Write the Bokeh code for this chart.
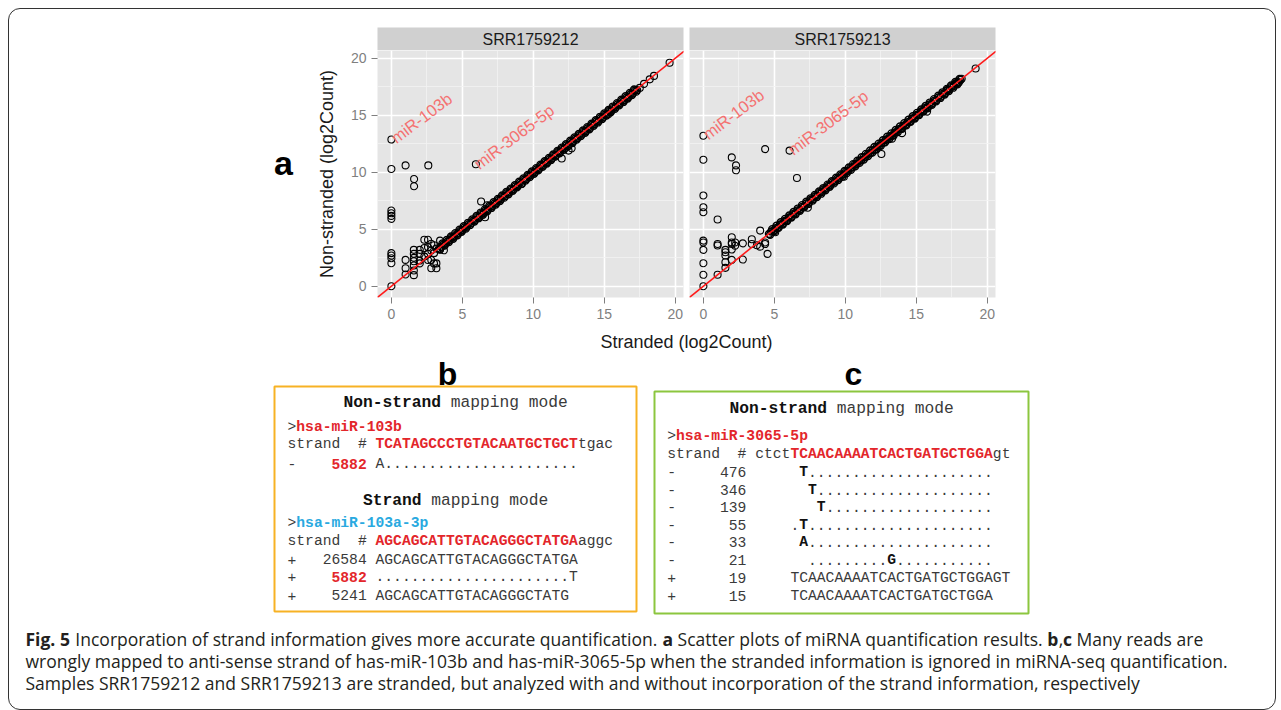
import re
from bokeh.plotting import figure
from bokeh.models import Range1d, FixedTicker, Slope, Spacer, Grid
from bokeh.layouts import row, column
from bokeh.core.properties import value
from bokeh.embed import file_html
from bokeh.resources import INLINE

SANS = "Liberation Sans"
MONO = "Liberation Mono"
CAPF = "Open Sans"

# ---------------- data ----------------
panel_labels = ["SRR1759212", "SRR1759213"]
axis_ticks = [0, 5, 10, 15, 20]
minor_ticks = [2.5, 7.5, 12.5, 17.5]
note_text = ["miR-103b", "miR-3065-5p"]

left_note_x = [0.1, 5.95]
left_note_y = [12.87, 10.6]
right_note_x = [0.1, 6.1]
right_note_y = [13.2, 11.85]

left_out_x = [0, 0, 0, 0, 0, 0, 0, 0, 0, 0, 0,
              1.0, 2.6, 1.6, 1.6, 5.95,
              1.0, 1.0, 1.0,
              1.58, 1.58, 1.58, 1.58, 1.58, 1.58, 1.58,
              2.0, 2.0, 2.0, 2.0,
              2.32, 2.32, 2.32,
              2.58, 2.58, 2.58, 2.58,
              2.81, 2.81, 2.81, 2.81,
              3.0, 3.0, 3.0,
              3.17, 3.17, 3.17,
              3.43, 3.43, 3.7,
              6.32, 6.6, 6.75,
              12.0, 12.48, 12.7, 15.3,
              17.5, 17.8, 18.2, 18.5, 19.6]
left_out_y = [12.87, 10.29, 6.64, 6.4, 6.17, 5.91, 2.9, 2.69, 2.46, 2.02, 0,
              10.6, 10.6, 9.4, 8.77, 10.7,
              2.31, 1.58, 1.03,
              3.19, 2.84, 2.49, 2.19, 1.82, 1.38, 0.97,
              3.19, 2.84, 2.25, 2.0,
              4.07, 3.35, 2.6,
              4.07, 3.43, 2.84, 2.3,
              3.72, 3.13, 1.58, 2.3,
              3.6, 2.9, 2.0,
              1.58, 2.0, 3.3,
              4.0, 3.2, 3.15,
              7.43, 6.05, 7.1,
              11.2, 11.9, 12.1, 15.1,
              17.4, 17.75, 18.15, 18.45, 19.6]

left_diag = [(3.35, 3.30), (3.52, 3.45), (3.68, 3.70), (3.81, 3.74), (3.97, 3.95), (4.12, 4.05),
             (4.26, 4.27), (4.41, 4.33), (4.58, 4.57), (4.70, 4.62), (4.86, 4.85), (5.02, 4.93),
             (5.15, 5.16), (5.31, 5.22), (5.44, 5.45), (5.60, 5.51), (5.77, 5.78), (5.90, 5.82),
             (6.05, 6.06), (6.21, 6.10), (6.36, 6.37), (6.50, 6.42), (6.66, 6.66), (6.80, 6.71),
             (6.95, 6.96), (7.10, 7.01), (7.26, 7.27), (7.40, 7.30), (7.55, 7.56), (7.71, 7.62),
             (7.86, 7.87), (8.00, 7.90), (8.16, 8.17), (8.30, 8.21), (8.46, 8.47), (8.61, 8.50),
             (8.75, 8.76), (8.91, 8.82), (9.06, 9.07), (9.20, 8.98), (9.35, 9.36), (9.51, 9.40),
             (9.66, 9.67), (9.80, 9.71), (9.95, 9.96), (10.11, 10.00), (10.25, 10.26), (10.41, 10.31),
             (10.56, 10.57), (10.70, 10.60), (10.86, 10.87), (11.00, 10.90), (11.15, 11.16), (11.31, 11.20),
             (11.45, 11.46), (11.60, 11.50), (11.76, 11.77), (11.90, 11.80), (12.05, 12.06), (12.21, 12.10),
             (12.35, 12.36), (12.50, 12.40), (12.66, 12.67), (12.80, 12.68), (12.95, 12.96), (13.11, 13.00),
             (13.25, 13.26), (13.40, 13.30), (13.56, 13.57), (13.70, 13.60), (13.85, 13.86), (14.01, 13.90),
             (14.15, 14.16), (14.30, 14.20), (14.46, 14.47), (14.60, 14.50), (14.75, 14.76), (14.91, 14.80),
             (15.05, 15.06), (15.20, 15.10), (15.36, 15.37), (15.50, 15.40), (15.66, 15.67), (15.80, 15.70),
             (15.95, 15.96), (16.11, 16.00), (16.26, 16.27), (16.40, 16.30), (16.56, 16.57), (16.70, 16.60),
             (16.86, 16.87), (17.00, 16.90), (17.16, 17.17), (17.31, 17.20)]

left_diag2 = [(3.42, 3.24), (3.60, 3.76), (3.75, 3.57), (3.90, 4.06), (4.05, 3.87), (4.20, 4.36),
              (4.35, 4.17), (4.50, 4.66), (4.65, 4.47), (4.80, 4.96), (4.95, 4.77), (5.10, 5.26),
              (5.25, 5.07), (5.40, 5.56), (5.55, 5.37), (5.70, 5.86), (5.85, 5.67), (6.00, 6.16),
              (6.15, 5.97), (6.30, 6.46), (6.45, 6.27), (6.60, 6.76), (6.75, 6.57), (6.90, 7.06),
              (7.05, 6.87), (7.20, 7.36), (7.35, 7.17), (7.50, 7.66), (7.65, 7.47), (7.80, 7.96),
              (7.95, 7.77), (8.10, 8.26), (8.25, 8.07), (8.40, 8.56), (8.55, 8.37), (8.70, 8.86),
              (8.85, 8.67), (9.00, 9.16), (9.15, 8.97), (9.30, 9.46), (9.45, 9.27), (9.60, 9.76),
              (9.75, 9.57), (9.90, 10.06), (10.05, 9.87), (10.20, 10.36), (10.35, 10.17), (10.50, 10.66),
              (10.65, 10.47), (10.80, 10.96), (10.95, 10.77), (11.10, 11.26), (11.25, 11.07), (11.40, 11.56),
              (11.55, 11.37), (11.70, 11.86), (11.85, 11.67), (12.00, 12.16), (12.15, 11.97), (12.30, 12.46),
              (12.45, 12.27), (12.60, 12.76), (12.75, 12.57), (12.90, 13.06), (13.05, 12.87), (13.20, 13.36),
              (13.35, 13.17), (13.50, 13.66), (13.65, 13.47), (13.80, 13.96), (13.95, 13.77), (14.10, 14.26),
              (14.25, 14.07), (14.40, 14.56), (14.55, 14.37), (14.70, 14.86), (14.85, 14.67), (15.00, 15.16),
              (15.15, 14.97), (15.30, 15.46), (15.45, 15.27), (15.60, 15.76), (15.75, 15.57), (15.90, 16.06),
              (16.05, 15.87), (16.20, 16.36), (16.35, 16.17), (16.50, 16.66), (16.65, 16.47), (16.80, 16.96),
              (16.95, 16.77), (17.10, 17.26), (17.25, 17.07)]

right_out_x = [0, 0, 2.0, 2.3, 2.3, 4.35, 6.07, 6.59,
               0, 0, 0, 1.0,
               0, 0, 0, 0, 0, 0,
               1.0, 1.0, 1.0,
               1.55, 1.55, 1.55, 1.55, 1.55,
               2.0, 2.0, 2.0, 2.0, 2.0, 2.24, 2.24,
               2.78, 2.78,
               3.41, 3.41, 3.77, 4.0, 4.0, 4.35, 4.35, 4.52, 5.06,
               7.36, 9.9, 12.54, 13.3, 14.0, 15.76,
               17.2, 17.8, 18.0, 18.2, 19.18]
right_out_y = [13.2, 11.1, 11.3, 10.6, 10.17, 12.03, 11.9, 9.5,
               7.96, 6.93, 6.49, 5.85,
               4.0, 3.84, 3.19, 2.02, 1.0, 0,
               3.7, 3.57, 1.0,
               3.19, 2.98, 2.69, 2.1, 1.61,
               4.3, 3.84, 3.7, 3.22, 2.31, 3.84, 3.55,
               3.76, 2.34,
               4.12, 3.7, 3.6, 4.88, 3.47, 3.84, 3.7, 2.84, 4.74,
               6.89, 9.6, 11.6, 12.95, 13.43, 15.32,
               17.2, 17.75, 17.9, 18.2, 19.1]

right_diag = [(4.62, 4.58), (4.78, 4.80), (4.93, 4.86), (5.09, 5.10), (5.24, 5.15), (5.40, 5.41),
              (5.55, 5.47), (5.71, 5.72), (5.86, 5.78), (6.02, 6.03), (6.17, 6.08), (6.33, 6.34),
              (6.48, 6.40), (6.64, 6.65), (6.79, 6.70), (6.95, 6.96), (7.10, 7.02), (7.26, 7.27),
              (7.41, 7.33), (7.57, 7.58), (7.72, 7.64), (7.88, 7.89), (8.03, 7.95), (8.19, 8.20),
              (8.34, 8.26), (8.50, 8.51), (8.65, 8.57), (8.81, 8.82), (8.96, 8.88), (9.12, 9.13),
              (9.27, 9.19), (9.43, 9.44), (9.58, 9.50), (9.74, 9.75), (9.89, 9.81), (10.05, 10.06),
              (10.20, 10.12), (10.36, 10.37), (10.51, 10.43), (10.67, 10.68), (10.82, 10.74), (10.98, 10.99),
              (11.13, 11.05), (11.29, 11.30), (11.44, 11.36), (11.60, 11.61), (11.75, 11.67), (11.91, 11.92),
              (12.06, 11.98), (12.22, 12.23), (12.37, 12.29), (12.53, 12.54), (12.68, 12.60), (12.84, 12.85),
              (12.99, 12.91), (13.15, 13.16), (13.30, 13.22), (13.46, 13.47), (13.61, 13.53), (13.77, 13.78),
              (13.92, 13.84), (14.08, 14.09), (14.23, 14.15), (14.39, 14.40), (14.54, 14.46), (14.70, 14.71),
              (14.85, 14.77), (15.01, 15.02), (15.16, 15.08), (15.32, 15.33), (15.47, 15.39), (15.63, 15.64),
              (15.78, 15.70), (15.94, 15.95), (16.09, 16.01), (16.25, 16.26), (16.40, 16.32), (16.56, 16.57),
              (16.71, 16.63), (16.87, 16.88), (17.02, 16.94), (17.18, 17.19), (17.33, 17.25), (17.49, 17.50),
              (17.64, 17.56), (17.80, 17.81), (17.95, 17.87), (18.11, 18.10)]

right_diag2 = [(4.70, 4.52), (4.85, 5.01), (5.00, 4.82), (5.15, 5.31), (5.30, 5.12), (5.45, 5.61),
               (5.60, 5.42), (5.75, 5.91), (5.90, 5.72), (6.05, 6.21), (6.20, 6.02), (6.35, 6.51),
               (6.50, 6.32), (6.65, 6.81), (6.80, 6.62), (6.95, 7.11), (7.10, 6.92), (7.25, 7.41),
               (7.40, 7.22), (7.55, 7.71), (7.70, 7.52), (7.85, 8.01), (8.00, 7.82), (8.15, 8.31),
               (8.30, 8.12), (8.45, 8.61), (8.60, 8.42), (8.75, 8.91), (8.90, 8.72), (9.05, 9.21),
               (9.20, 9.02), (9.35, 9.51), (9.50, 9.32), (9.65, 9.81), (9.80, 9.62), (9.95, 10.11),
               (10.10, 9.92), (10.25, 10.41), (10.40, 10.22), (10.55, 10.71), (10.70, 10.52), (10.85, 11.01),
               (11.00, 10.82), (11.15, 11.31), (11.30, 11.12), (11.45, 11.61), (11.60, 11.42), (11.75, 11.91),
               (11.90, 11.72), (12.05, 12.21), (12.20, 12.02), (12.35, 12.51), (12.50, 12.32), (12.65, 12.81),
               (12.80, 12.62), (12.95, 13.11), (13.10, 12.92), (13.25, 13.41), (13.40, 13.22), (13.55, 13.71),
               (13.70, 13.52), (13.85, 14.01), (14.00, 13.82), (14.15, 14.31), (14.30, 14.12), (14.45, 14.61),
               (14.60, 14.42), (14.75, 14.91), (14.90, 14.72), (15.05, 15.21), (15.20, 15.02), (15.35, 15.51),
               (15.50, 15.32), (15.65, 15.81), (15.80, 15.62), (15.95, 16.11), (16.10, 15.92), (16.25, 16.41),
               (16.40, 16.22), (16.55, 16.71), (16.70, 16.52), (16.85, 17.01), (17.00, 16.82), (17.15, 17.31),
               (17.30, 17.12), (17.45, 17.61), (17.60, 17.42), (17.75, 17.91), (17.90, 17.72), (18.05, 18.18)]

# ---------------- helpers ----------------
def put(fig, x, y, t, font, size, color, bold=False, align="left", baseline="middle", angle=0):
    fig.text(x=[x], y=[y], text=[t], text_font=value(font), text_font_size=f"{size}px",
             text_color=color, text_font_style="bold" if bold else "normal",
             text_align=align, text_baseline=baseline, angle=angle)


def blank(width, height, xr, yr):
    f = figure(width=width, height=height, x_range=Range1d(*xr), y_range=Range1d(*yr),
               min_border=0, min_border_left=0, min_border_right=0, min_border_top=0,
               min_border_bottom=0, toolbar_location=None, output_backend="svg",
               x_axis_location=None, y_axis_location=None)
    f.grid.visible = False
    f.outline_line_color = None
    f.background_fill_color = None
    f.border_fill_color = None
    return f


def strip(label, width, mbl, mbr):
    s = figure(width=width, height=41, x_range=Range1d(0, 1), y_range=Range1d(0, 1),
               min_border_left=mbl, min_border_right=mbr, min_border_top=18, min_border_bottom=0,
               toolbar_location=None, output_backend="svg",
               x_axis_location=None, y_axis_location=None)
    s.grid.visible = False
    s.outline_line_color = None
    s.background_fill_color = "#d0d0d0"
    s.border_fill_color = None
    put(s, 0.5, 0.5, label, SANS, 16, "#1a1a1a", align="center")
    return s


def panel(out_x, out_y, diags, nx, ny, width, mbl, mbr, show_y):
    p = figure(width=width, height=275, x_range=Range1d(-0.98, 20.58), y_range=Range1d(-0.99, 20.68),
               min_border_left=mbl, min_border_right=mbr, min_border_top=0, min_border_bottom=28,
               toolbar_location=None, output_backend="svg",
               y_axis_location="left" if show_y else None)
    p.background_fill_color = "#e5e5e5"
    p.border_fill_color = None
    p.outline_line_color = None
    if not p.ygrid:
        p.add_layout(Grid(dimension=1), "center")
    for g in list(p.xgrid) + list(p.ygrid):
        g.ticker = FixedTicker(ticks=axis_ticks, minor_ticks=minor_ticks)
        g.grid_line_color = "white"
        g.grid_line_width = 1.6
        g.minor_grid_line_color = "#f2f2f2"
        g.minor_grid_line_width = 0.8
    axes = list(p.xaxis) + (list(p.yaxis) if show_y else [])
    for ax in axes:
        ax.ticker = FixedTicker(ticks=axis_ticks)
        ax.axis_line_color = None
        ax.major_tick_line_color = "#7f7f7f"
        ax.major_tick_out = 6
        ax.major_tick_in = 0
        ax.minor_tick_out = 0
        ax.minor_tick_in = 0
        ax.major_label_text_font = SANS
        ax.major_label_text_font_size = "14px"
        ax.major_label_text_color = "#7f7f7f"
        ax.major_label_standoff = 5
    if show_y:
        ya = p.yaxis[0]
        ya.axis_label = "Non-stranded (log2Count)"
        ya.axis_label_text_font = SANS
        ya.axis_label_text_font_size = "18px"
        ya.axis_label_text_font_style = "normal"
        ya.axis_label_text_color = "#1a1a1a"
        ya.axis_label_standoff = 11
    for diag in diags:
        p.scatter([a for a, _ in diag], [b for _, b in diag], marker="circle", size=7,
                  fill_color=None, line_color="black", line_width=1.4)
    p.scatter(out_x, out_y, marker="circle", size=7, fill_color=None,
              line_color="black", line_width=1.1)
    p.add_layout(Slope(gradient=1, y_intercept=0, line_color="#ff1a1a", line_width=1.6))
    p.text(x=nx, y=ny, text=note_text, angle=37, angle_units="deg",
           text_font=value(SANS), text_font_size="16.5px", text_color="#f47272",
           text_align="left", text_baseline="middle")
    return p


# ---------------- top row ----------------
pad_left = blank(291, 316, (9, 300), (325, 9))
put(pad_left, 283, 162, "a", SANS, 34, "#000000", bold=True, align="center", baseline="alphabetic")

s1 = strip(panel_labels[0], 386, 77, 3)
p1 = panel(left_out_x, left_out_y, [left_diag, left_diag2], left_note_x, left_note_y, 386, 77, 3, True)
s2 = strip(panel_labels[1], 312, 3, 3)
p2 = panel(right_out_x, right_out_y, [right_diag, right_diag2], right_note_x, right_note_y, 312, 3, 3, False)

top = row(pad_left, column(s1, p1), column(s2, p2), Spacer(width=277, height=316))

# ---------------- bottom part ----------------
bot = blank(1266, 384, (9, 1275), (709, 325))
put(bot, 686, 341.7, "Stranded (log2Count)", SANS, 18, "#1a1a1a", align="center")
put(bot, 447, 373, "b", SANS, 32, "#000000", bold=True, align="center", baseline="alphabetic")
put(bot, 853, 373, "c", SANS, 32, "#000000", bold=True, align="center", baseline="alphabetic")

bot.quad(left=[274], right=[636], top=[386], bottom=[611], fill_color=None,
         line_color="#f7b224", line_width=2)
bot.quad(left=[654], right=[1028], top=[391], bottom=[613], fill_color=None,
         line_color="#8cc63f", line_width=2)

GREY = "#3a3a3a"
BLACK = "#111111"
RED = "#e3262b"
BLUE = "#29a9e0"
MS = 14.67
HS = 16.25


def mono(fig, x0, y, segs, size):
    cw = 0.6 * size
    k = 0
    for txt, color, bold in segs:
        for m in re.finditer(r"\S+(?: \S+)*", txt):
            put(fig, x0 + (k + m.start()) * cw, y, m.group(), MONO, size, color, bold)
        k += len(txt)


def heading(fig, cx, y, segs):
    n = sum(len(t) for t, _, _ in segs)
    mono(fig, cx - n * 0.6 * HS / 2, y, segs, HS)


# box b
heading(bot, 455, 401.7, [("Non-strand", BLACK, True), (" mapping mode", GREY, False)])
bx = 287
mono(bot, bx, 426.7, [(">", GREY, False), ("hsa-miR-103b", RED, True)], MS)
mono(bot, bx, 443.3, [("strand  # ", GREY, False), ("TCATAGCCCTGTACAATGCTGCT", RED, True), ("tgac", GREY, False)], MS)
mono(bot, bx, 463.3, [("-    ", GREY, False), ("5882", RED, True), (" A" + "." * 22, GREY, False)], MS)
heading(bot, 455, 500, [("Strand", BLACK, True), (" mapping mode", GREY, False)])
mono(bot, bx, 522.3, [(">", GREY, False), ("hsa-miR-103a-3p", BLUE, True)], MS)
mono(bot, bx, 540, [("strand  # ", GREY, False), ("AGCAGCATTGTACAGGGCTATGA", RED, True), ("aggc", GREY, False)], MS)
mono(bot, bx, 559, [("+   26584 AGCAGCATTGTACAGGGCTATGA", GREY, False)], MS)
mono(bot, bx, 576.7, [("+    ", GREY, False), ("5882", RED, True), (" " + "." * 22 + "T", GREY, False)], MS)
mono(bot, bx, 595, [("+    5241 AGCAGCATTGTACAGGGCTATG", GREY, False)], MS)

# box c
heading(bot, 841, 407.7, [("Non-strand", BLACK, True), (" mapping mode", GREY, False)])
cx0 = 666.7
mono(bot, cx0, 435.7, [(">", GREY, False), ("hsa-miR-3065-5p", RED, True)], MS)
mono(bot, cx0, 453.3, [("strand  # ctct", GREY, False), ("TCAACAAAATCACTGATGCTGGA", RED, True), ("gt", GREY, False)], MS)
mono(bot, cx0, 471, [("-     476      ", GREY, False), ("T", BLACK, True), ("." * 21, GREY, False)], MS)
mono(bot, cx0, 489, [("-     346       ", GREY, False), ("T", BLACK, True), ("." * 20, GREY, False)], MS)
mono(bot, cx0, 506.7, [("-     139        ", GREY, False), ("T", BLACK, True), ("." * 19, GREY, False)], MS)
mono(bot, cx0, 524.3, [("-      55     .", GREY, False), ("T", BLACK, True), ("." * 21, GREY, False)], MS)
mono(bot, cx0, 541.7, [("-      33      ", GREY, False), ("A", BLACK, True), ("." * 21, GREY, False)], MS)
mono(bot, cx0, 559, [("-      21       " + "." * 9, GREY, False), ("G", BLACK, True), ("." * 11, GREY, False)], MS)
mono(bot, cx0, 577.3, [("+      19     TCAACAAAATCACTGATGCTGGAGT", GREY, False)], MS)
mono(bot, cx0, 595, [("+      15     TCAACAAAATCACTGATGCTGGA", GREY, False)], MS)

# caption
OSW = {' ': 260, ',': 245, '.': 266, '-': 322, '(': 296, ')': 296,
       'A': 633, 'B': 648, 'C': 631, 'D': 729, 'E': 556, 'F': 516, 'G': 728, 'H': 738, 'I': 279,
       'J': 267, 'K': 614, 'L': 519, 'M': 903, 'N': 754, 'O': 779, 'P': 602, 'Q': 779, 'R': 618,
       'S': 549, 'T': 553, 'U': 742, 'V': 595, 'W': 930, 'X': 585, 'Y': 563, 'Z': 565,
       'a': 556, 'b': 613, 'c': 476, 'd': 613, 'e': 561, 'f': 339, 'g': 548, 'h': 614, 'i': 253,
       'j': 253, 'k': 525, 'l': 253, 'm': 930, 'n': 614, 'o': 604, 'p': 613, 'q': 613, 'r': 408,
       's': 477, 't': 353, 'u': 614, 'v': 501, 'w': 778, 'x': 524, 'y': 502, 'z': 477}


def cap_w(s, bold, fs):
    return sum(OSW.get(ch, 572) for ch in s) / 1000.0 * fs * (1.07 if bold else 1.0)


cap_lines = [
    [("Fig. 5", True), (" Incorporation of strand information gives more accurate quantification. ", False),
     ("a", True), (" Scatter plots of miRNA quantification results. ", False), ("b", True), (",", False),
     ("c", True), (" Many reads are", False)],
    [("wrongly mapped to anti-sense strand of has-miR-103b and has-miR-3065-5p when the stranded information is ignored in miRNA-seq quantification.", False)],
    [("Samples SRR1759212 and SRR1759213 are stranded, but analyzed with and without incorporation of the strand information, respectively", False)],
]
cap_y = [638.5, 660.5, 682.5]
cap_target = [1240.0, 1204.0, 1130.0]
CAP_FS = round(min(tw / sum(cap_w(t, b, 1.0) for t, b in segs)
                   for segs, tw in zip(cap_lines, cap_target)), 2)
for segs, yy in zip(cap_lines, cap_y):
    x = 25.0
    for t, b in segs:
        lead = len(t) - len(t.lstrip(' '))
        put(bot, x + cap_w(' ' * lead, b, CAP_FS), yy, t.strip(' '), CAPF, CAP_FS, "#231f20", bold=b)
        x += cap_w(t, b, CAP_FS)

layout = column(top, bot, margin=(8, 0, 0, 8),
                styles={"border": "1px solid #333333", "border-radius": "12px"})

open("out.html", "w").write(file_html(layout, INLINE))
